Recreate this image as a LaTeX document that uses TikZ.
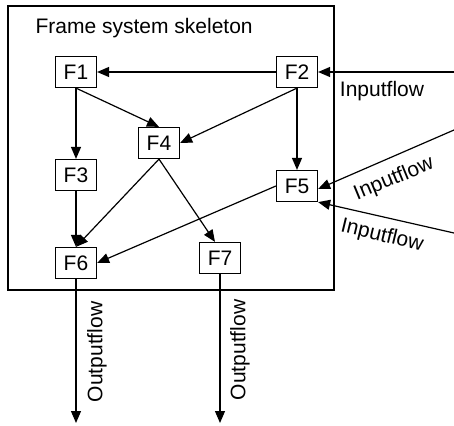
\documentclass[tikz,border=0pt]{standalone}
\usepackage{fontspec}
\setmainfont{Liberation Sans}
\usepackage{tikz}
\usetikzlibrary{arrows.meta}

\begin{document}
\begin{tikzpicture}[x=1pt,y=-1pt,line width=1.2pt,
  frame/.style={draw,rectangle,minimum width=41pt,minimum height=31pt,inner sep=0pt,font=\fontsize{21}{25}\selectfont},
  flow/.style={-{Triangle[length=12pt,width=10pt]}},
  lbl/.style={inner sep=0pt,font=\fontsize{21}{25}\selectfont}]
\useasboundingbox (0,0) rectangle (454,425);

\draw (8,6) rectangle (334,290);
\node[lbl,anchor=base west] (title) at (35,34) {Frame system skeleton};

\node[frame] (F1) at (76,72) {F1};
\node[frame] (F2) at (297,72) {F2};
\node[frame] (F3) at (76,175) {F3};
\node[frame] (F4) at (159,143) {F4};
\node[frame] (F5) at (297,186) {F5};
\node[frame] (F6) at (76,263) {F6};
\node[frame] (F7) at (220,258) {F7};

\coordinate (in1) at (454,72);
\coordinate (in2) at (454,130);
\coordinate (in3) at (454,233);
\coordinate (out6) at (76,423);
\coordinate (out7) at (220,423);

\draw[flow] (F2) -- (F1);
\draw[flow] (F1) -- (F3);
\draw[flow] (F1.south) -- (F4.north);
\draw[flow] (F2.south) -- (F4.east);
\draw[flow] (F2) -- (F5);
\draw[flow] (F3) -- (F6);
\draw[flow] (F4.south) -- (F6.north);
\draw[flow] (F4.south) -- ([xshift=-5pt]F7.north);
\draw[flow] (F5.west) -- (F6.east);

\draw[flow] (in1) -- (F2.east);
\draw[flow] (in2) -- ([yshift=-3pt]F5.east);
\draw[flow] (in3) -- (F5.south east);
\node[lbl] (l1) at (382,91) {Inputflow};
\node[lbl,rotate=22.4] (l2) at (394,179) {Inputflow};
\node[lbl,rotate=-13.6] (l3) at (382,236) {Inputflow};

\draw[flow] (F6) -- (out6);
\draw[flow] (F7) -- (out7);
\node[lbl,rotate=90] (o6) at (97,352) {Outputflow};
\node[lbl,rotate=90] (o7) at (240,350) {Outputflow};
\end{tikzpicture}
\end{document}
